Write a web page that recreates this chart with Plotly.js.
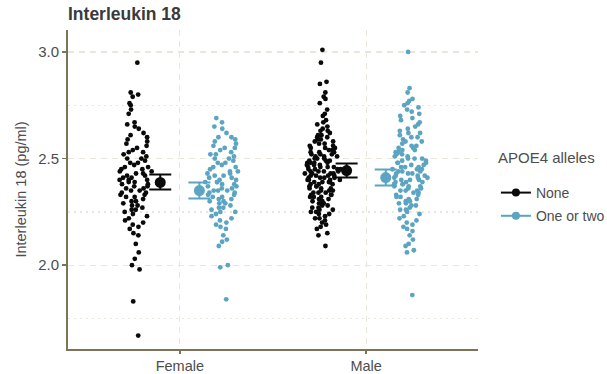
<!DOCTYPE html>
<html>
<head>
<meta charset="utf-8">
<script src="https://cdn.plot.ly/plotly-3.0.1.min.js"></script>
<style>html,body{margin:0;padding:0;background:#fff;}#chart{width:607px;height:374px;}</style>
</head>
<body>
<div id="chart"></div>
<script>
// Categories and groups
const categories = ["Female", "Male"];
const groups = ["None", "One or two"];
const legendTitle = "APOE4 alleles";

const femaleNone = [2.95,2.81,2.80,2.79,2.76,2.75,2.73,2.71,2.67,2.66,2.65,2.64,2.62,2.61,2.60,2.59,2.58,2.57,2.56,2.55,2.54,2.53,2.53,2.52,2.51,2.50,2.50,2.49,2.48,2.48,2.47,2.46,2.46,2.45,2.45,2.44,2.44,2.43,2.43,2.42,2.42,2.41,2.41,2.40,2.40,2.40,2.39,2.39,2.38,2.38,2.37,2.37,2.36,2.36,2.35,2.35,2.34,2.34,2.33,2.33,2.32,2.32,2.31,2.30,2.30,2.29,2.28,2.28,2.27,2.26,2.26,2.25,2.24,2.23,2.22,2.21,2.20,2.19,2.18,2.17,2.15,2.14,2.10,2.06,2.03,2.00,1.98,1.83,1.67];
const femaleOneTwo = [2.69,2.67,2.65,2.64,2.62,2.60,2.60,2.59,2.58,2.57,2.56,2.55,2.55,2.54,2.53,2.52,2.52,2.51,2.50,2.50,2.49,2.48,2.48,2.47,2.46,2.46,2.45,2.44,2.44,2.43,2.43,2.42,2.42,2.41,2.41,2.40,2.40,2.39,2.39,2.39,2.38,2.38,2.37,2.37,2.36,2.36,2.35,2.35,2.35,2.34,2.34,2.33,2.33,2.32,2.32,2.31,2.31,2.30,2.30,2.29,2.29,2.28,2.27,2.27,2.26,2.25,2.25,2.24,2.23,2.22,2.21,2.20,2.19,2.18,2.17,2.14,2.12,2.11,2.09,2.00,1.99,1.84];
const maleNone = [3.01,2.95,2.86,2.85,2.81,2.79,2.78,2.76,2.73,2.71,2.70,2.68,2.67,2.66,2.65,2.64,2.63,2.63,2.62,2.61,2.61,2.60,2.60,2.59,2.59,2.58,2.58,2.57,2.57,2.56,2.56,2.55,2.55,2.55,2.54,2.54,2.53,2.53,2.53,2.52,2.52,2.52,2.51,2.51,2.51,2.50,2.50,2.50,2.49,2.49,2.49,2.48,2.48,2.48,2.48,2.47,2.47,2.47,2.46,2.46,2.46,2.46,2.45,2.45,2.45,2.45,2.44,2.44,2.44,2.44,2.43,2.43,2.43,2.43,2.42,2.42,2.42,2.42,2.41,2.41,2.41,2.41,2.40,2.40,2.40,2.40,2.39,2.39,2.39,2.39,2.38,2.38,2.38,2.37,2.37,2.37,2.36,2.36,2.36,2.35,2.35,2.35,2.34,2.34,2.34,2.33,2.33,2.33,2.32,2.32,2.32,2.31,2.31,2.30,2.30,2.29,2.29,2.28,2.28,2.27,2.27,2.26,2.26,2.25,2.25,2.24,2.24,2.23,2.22,2.22,2.21,2.20,2.19,2.18,2.17,2.15,2.14,2.09];
const maleOneTwo = [3.00,2.83,2.81,2.78,2.77,2.76,2.75,2.74,2.73,2.72,2.71,2.70,2.69,2.68,2.67,2.66,2.65,2.64,2.63,2.62,2.62,2.61,2.60,2.60,2.59,2.58,2.58,2.57,2.56,2.56,2.55,2.55,2.54,2.54,2.53,2.53,2.52,2.52,2.51,2.51,2.50,2.50,2.50,2.49,2.49,2.48,2.48,2.48,2.47,2.47,2.46,2.46,2.46,2.45,2.45,2.45,2.44,2.44,2.44,2.43,2.43,2.43,2.42,2.42,2.42,2.41,2.41,2.41,2.40,2.40,2.40,2.39,2.39,2.39,2.38,2.38,2.38,2.37,2.37,2.37,2.36,2.36,2.35,2.35,2.35,2.34,2.34,2.33,2.33,2.32,2.32,2.31,2.31,2.30,2.30,2.29,2.29,2.28,2.28,2.27,2.26,2.26,2.25,2.24,2.23,2.22,2.21,2.20,2.19,2.18,2.17,2.16,2.14,2.12,2.10,2.09,2.07,2.06,1.86];

// Group means with interval bounds (Female, Male)
const meanNone = [2.388, 2.444];
const loNone = [2.355, 2.411];
const hiNone = [2.425, 2.477];
const meanOneTwo = [2.350, 2.411];
const loOneTwo = [2.313, 2.374];
const hiOneTwo = [2.388, 2.449];

// Tick labels
const yTicks = [2.0, 2.5, 3.0];
const yTickText = ["2.0", "2.5", "3.0"];
const yMinorTicks = [1.75, 2.25, 2.75];

const colNone = "#0a0a0a";
const colOne = "#5ba4c2";
const catPos = [0, 1];
const ptOffset = 0.235, meanOffset = 0.105;

function pointsTrace(vals, cat, off, color) {
  return {
    type: "box", y: vals, x0: catPos[cat] + off, width: 0.2,
    boxpoints: "all", jitter: 1, pointpos: 0,
    line: {width: 0, color: "rgba(0,0,0,0)"}, fillcolor: "rgba(0,0,0,0)",
    whiskerwidth: 0,
    marker: {color: color, size: 4.8, opacity: 1, line: {width: 0}},
    showlegend: false, hoverinfo: "y"
  };
}
function meanTrace(means, lo, hi, off, color) {
  return {
    type: "scatter", mode: "markers",
    x: catPos.map(p => p + off), y: means,
    error_y: {type: "data", symmetric: false,
      array: hi.map((h, i) => h - means[i]),
      arrayminus: means.map((m, i) => m - lo[i]),
      color: color, thickness: 2, width: 11},
    marker: {color: color, size: 11},
    showlegend: false
  };
}
const data = [
  pointsTrace(femaleNone, 0, -ptOffset, colNone),
  pointsTrace(maleNone, 1, -ptOffset, colNone),
  pointsTrace(femaleOneTwo, 0, ptOffset, colOne),
  pointsTrace(maleOneTwo, 1, ptOffset, colOne),
  meanTrace(meanNone, loNone, hiNone, -meanOffset, colNone),
  meanTrace(meanOneTwo, loOneTwo, hiOneTwo, meanOffset, colOne),
  {type: "scatter", mode: "lines+markers", x: [null], y: [null], name: groups[0],
   legendgroup: "a", line: {color: colNone, width: 2}, marker: {color: colNone, size: 8}},
  {type: "scatter", mode: "lines+markers", x: [null], y: [null], name: groups[1],
   legendgroup: "b", line: {color: colOne, width: 2}, marker: {color: colOne, size: 8}}
];

const gridCol = "#ebe6dc";
const axisCol = "#7f7357";
const layout = {
  width: 607, height: 374,
  margin: {l: 68, r: 129, t: 30, b: 25},
  paper_bgcolor: "#ffffff", plot_bgcolor: "#ffffff",
  font: {family: "Liberation Sans, Arial, sans-serif", color: "#4d4d4d", size: 14},
  title: {text: "<b>Interleukin 18</b>", x: 0, xref: "paper", xanchor: "left",
          y: 0.963, yref: "container", yanchor: "middle",
          font: {size: 17.5, color: "#3a3a3a"}},
  xaxis: {
    type: "linear", range: [-0.6, 1.6], tickvals: catPos, ticktext: categories,
    showgrid: true, gridcolor: gridCol, gridwidth: 1.3, griddash: "6px,5px",
    showline: true, linecolor: axisCol, linewidth: 2,
    ticks: "outside", ticklen: 3, tickcolor: axisCol, tickwidth: 1.5,
    zeroline: false, tickfont: {size: 14.5, color: "#4d4d4d"}
  },
  yaxis: {
    range: [1.607, 3.103], tickvals: yTicks, ticktext: yTickText,
    showgrid: true, gridcolor: gridCol, gridwidth: 1.3, griddash: "6px,5px",
    minor: {tickvals: yMinorTicks, showgrid: true, gridcolor: gridCol, gridwidth: 1.3, griddash: "2px,4px"},
    showline: true, linecolor: axisCol, linewidth: 2,
    ticks: "outside", ticklen: 4, tickcolor: axisCol, tickwidth: 1.5,
    zeroline: false, tickfont: {size: 15, color: "#4d4d4d"},
    title: {text: "Interleukin 18 (pg/ml)", font: {size: 14.5, color: "#4d4d4d"}, standoff: 8}
  },
  legend: {
    xref: "container", yref: "container",
    x: 0.817, xanchor: "left", y: 1 - 177 / 374, yanchor: "top",
    font: {size: 14, color: "#4d4d4d"}, bgcolor: "rgba(0,0,0,0)",
    itemwidth: 30, tracegroupgap: 2
  },
  annotations: [{
    text: legendTitle, xref: "paper", yref: "paper",
    x: 1.044, y: (350 - 158) / 320, xanchor: "left", yanchor: "middle",
    showarrow: false, font: {size: 15, color: "#4d4d4d"}
  }],
  showlegend: true,
  boxmode: "overlay"
};
Plotly.newPlot("chart", data, layout, {displayModeBar: false, staticPlot: true});
</script>
</body>
</html>
